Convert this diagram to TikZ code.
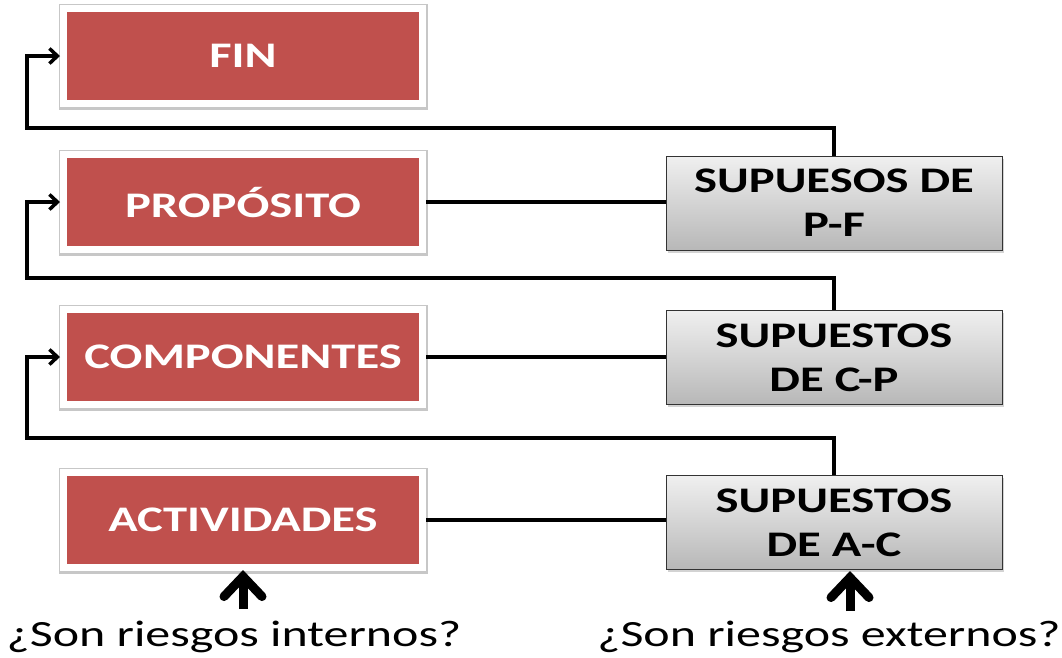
\documentclass[tikz,border=0pt]{standalone}
\usepackage{fontspec}
\setmainfont[FakeStretch=1.35]{Carlito}
\usetikzlibrary{arrows.meta,shadows}
\definecolor{boxred}{HTML}{C0504D}
\tikzset{
  redbox/.style={fill=boxred, draw=white, line width=7pt, minimum width=359pt, minimum height=95pt,
    text=white, font=\fontsize{36}{44}\selectfont\bfseries,
    preaction={draw=black!22, line width=10.5pt, transform canvas={xshift=0.6pt, yshift=-1.2pt}}},
  graybox/.style={top color=white!94!black, bottom color=black!28, draw=black!80, line width=1pt,
    minimum width=336pt, minimum height=94pt, align=center, inner sep=0pt,
    font=\fontsize{36}{44}\selectfont\bfseries,
    drop shadow={opacity=0.35, shadow xshift=1.5pt, shadow yshift=-2.5pt}},
  link/.style={line width=3.5pt},
  fb/.style={line width=3.5pt, -{Straight Barb[length=8pt,width=15pt,line width=3.5pt]}},
  up/.style={line width=9pt, -{Straight Barb[length=20pt,width=38pt,line width=9pt,line cap=round]}},
  qtext/.style={font=\fontsize{37}{44}\selectfont, inner sep=0pt}
}
\begin{document}
\begin{tikzpicture}[x=1pt,y=-1pt]
\useasboundingbox (0,0) rectangle (1062,657);
\node[redbox] (fin) at (243,56) {FIN};
\node[redbox] (prop) at (243,202) {PROPÓSITO};
\node[redbox] (comp) at (243,357) {COMPONENTES};
\node[redbox] (act) at (243,520) {ACTIVIDADES};
\node[graybox] (pf) at (834,203) {SUPUESOS DE\\P-F};
\node[graybox] (cp) at (834,357.5) {SUPUESTOS\\DE C-P};
\node[graybox] (ac) at (834,522.5) {SUPUESTOS\\DE A-C};
\draw[link] (prop.east) -- (prop.east -| pf.west);
\draw[link] (comp.east) -- (comp.east -| cp.west);
\draw[link] (act.east) -- (act.east -| ac.west);
\coordinate (r1) at (834,128);
\coordinate (l1) at (27,128);
\coordinate (r2) at (834,278);
\coordinate (l2) at (27,278);
\coordinate (r3) at (834,438);
\coordinate (l3) at (27,438);
\draw[fb] (pf.north) -- (r1) -- (l1) |- (fin.west);
\draw[fb] (cp.north) -- (r2) -- (l2) |- (prop.west);
\draw[fb] (ac.north) -- (r3) -- (l3) |- (comp.west);
\node[qtext] (qi) at (234,637) {¿Son riesgos internos?};
\node[qtext] (qe) at (829,637) {¿Son riesgos externos?};
\coordinate (ai) at (243,609);
\coordinate (ait) at (243,570);
\coordinate (ae) at (850,611);
\coordinate (aet) at (850,571);
\draw[up] (ai) -- (ait);
\draw[up] (ae) -- (aet);
\end{tikzpicture}
\end{document}
